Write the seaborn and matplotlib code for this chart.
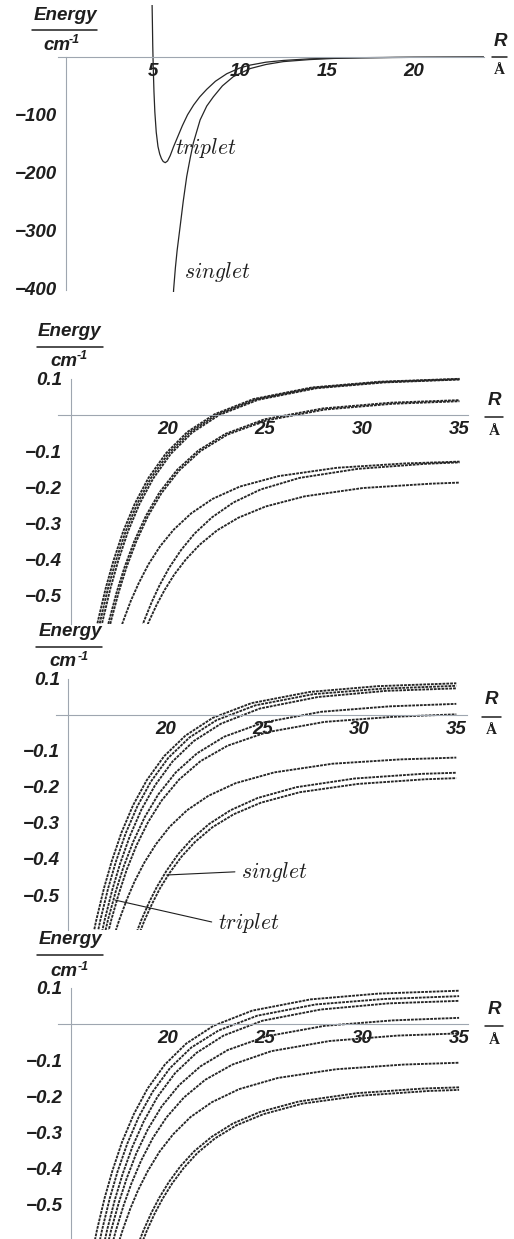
import matplotlib
matplotlib.use("Agg")
import matplotlib.pyplot as plt
from matplotlib.lines import Line2D
from matplotlib.ticker import FixedLocator
import numpy as np
import pandas as pd
import seaborn as sns

# ---------------- data ----------------
# Top panel: zero-field potential curves (energy in cm^-1, R in angstrom)
triplet_r = [4.96, 4.98, 5.0, 5.03, 5.07, 5.12, 5.2, 5.3, 5.4, 5.5, 5.6, 5.72, 5.85, 6.0,
             6.2, 6.45, 6.7, 7.0, 7.35, 7.7, 8.1, 8.6, 9.25, 10.0, 10.6, 11.5, 12.5, 14.0,
             16.0, 19.0, 24.0]
triplet_e = [95, 60, 20, -20, -60, -95, -130, -155, -168, -176, -181, -183, -180, -171,
             -155, -137, -119, -100, -83, -69, -56, -42, -29, -19, -14, -9, -6, -3.2,
             -1.5, -0.6, -0.2]
singlet_r = [6.15, 6.2, 6.3, 6.4, 6.57, 6.75, 6.95, 7.15, 7.33, 7.72, 8.1, 8.48, 9.0, 9.63,
             10.6, 11.5, 12.5, 14.0, 15.4, 17.0, 20.0, 24.0]
singlet_e = [-430, -402, -365, -335, -294, -250, -207, -175, -149, -109, -85, -69, -50, -34,
             -20, -13, -8, -4.5, -2.5, -1.5, -0.6, -0.2]

# Second panel: long-range levels
levels_b_r = [
    [16.1, 16.4, 16.8, 17.2, 17.7, 18.3, 19.0, 19.9, 21.0, 22.4, 24.4, 27.4, 30.9, 35],
    [16.22, 16.52, 16.92, 17.32, 17.82, 18.42, 19.12, 20.02, 21.12, 22.52, 24.52, 27.52, 31.02, 35],
    [16.34, 16.64, 17.04, 17.44, 17.94, 18.54, 19.24, 20.14, 21.24, 22.64, 24.64, 27.64, 31.14, 35],
    [16.67, 16.97, 17.37, 17.77, 18.27, 18.87, 19.57, 20.47, 21.57, 22.97, 24.97, 27.97, 31.47, 35],
    [16.77, 17.07, 17.47, 17.87, 18.37, 18.97, 19.67, 20.57, 21.67, 23.07, 25.07, 28.07, 31.57, 35],
    [17.4, 17.7, 18.1, 18.5, 19.0, 19.6, 20.3, 21.2, 22.3, 23.7, 25.7, 28.7, 32.2, 35],
    [18.47, 18.77, 19.17, 19.57, 20.07, 20.67, 21.37, 22.27, 23.37, 24.77, 26.77, 29.77, 33.27, 35],
    [18.73, 19.03, 19.43, 19.83, 20.33, 20.93, 21.63, 22.53, 23.63, 25.03, 27.03, 30.03, 33.53, 35],
]
levels_b_e = [
    [-0.649, -0.570, -0.479, -0.403, -0.322, -0.245, -0.174, -0.106, -0.047, 0.002, 0.044, 0.076, 0.092, 0.100],
    [-0.649, -0.570, -0.479, -0.404, -0.323, -0.246, -0.175, -0.107, -0.048, 0.001, 0.043, 0.075, 0.091, 0.099],
    [-0.648, -0.570, -0.480, -0.404, -0.323, -0.246, -0.176, -0.108, -0.049, 0.000, 0.042, 0.074, 0.090, 0.098],
    [-0.640, -0.570, -0.489, -0.421, -0.349, -0.279, -0.214, -0.152, -0.098, -0.052, -0.012, 0.018, 0.034, 0.041],
    [-0.640, -0.570, -0.490, -0.421, -0.350, -0.280, -0.216, -0.154, -0.100, -0.054, -0.015, 0.015, 0.031, 0.038],
    [-0.619, -0.570, -0.513, -0.465, -0.413, -0.363, -0.317, -0.272, -0.232, -0.198, -0.169, -0.146, -0.134, -0.129],
    [-0.615, -0.570, -0.517, -0.471, -0.422, -0.374, -0.328, -0.283, -0.242, -0.206, -0.174, -0.149, -0.135, -0.131],
    [-0.609, -0.570, -0.524, -0.484, -0.441, -0.399, -0.359, -0.319, -0.284, -0.253, -0.225, -0.202, -0.190, -0.187],
]

# Third panel
levels_c_r = [
    [16.14, 16.44, 16.84, 17.24, 17.74, 18.34, 19.04, 19.94, 21.04, 22.44, 24.44, 27.44, 30.94, 35],
    [16.35, 16.65, 17.05, 17.45, 17.95, 18.55, 19.25, 20.15, 21.25, 22.65, 24.65, 27.65, 31.15, 35],
    [16.57, 16.87, 17.27, 17.67, 18.17, 18.77, 19.47, 20.37, 21.47, 22.87, 24.87, 27.87, 31.37, 35],
    [16.74, 17.04, 17.44, 17.84, 18.34, 18.94, 19.64, 20.54, 21.64, 23.04, 25.04, 28.04, 31.54, 35],
    [16.91, 17.21, 17.61, 18.01, 18.51, 19.11, 19.81, 20.71, 21.81, 23.21, 25.21, 28.21, 31.71, 35],
    [17.32, 17.62, 18.02, 18.42, 18.92, 19.52, 20.22, 21.12, 22.22, 23.62, 25.62, 28.62, 32.12, 35],
    [18.46, 18.76, 19.16, 19.56, 20.06, 20.66, 21.36, 22.26, 23.36, 24.76, 26.76, 29.76, 33.26, 35],
    [18.63, 18.93, 19.33, 19.73, 20.23, 20.83, 21.53, 22.43, 23.53, 24.93, 26.93, 29.93, 33.43, 35],
]
levels_c_e = [
    [-0.647, -0.570, -0.481, -0.406, -0.327, -0.251, -0.182, -0.115, -0.058, -0.009, 0.032, 0.063, 0.079, 0.087],
    [-0.647, -0.570, -0.482, -0.408, -0.330, -0.255, -0.186, -0.120, -0.063, -0.015, 0.026, 0.057, 0.072, 0.080],
    [-0.644, -0.570, -0.485, -0.413, -0.337, -0.263, -0.196, -0.130, -0.073, -0.025, 0.017, 0.049, 0.066, 0.073],
    [-0.639, -0.570, -0.491, -0.423, -0.353, -0.284, -0.221, -0.160, -0.107, -0.061, -0.022, 0.008, 0.023, 0.030],
    [-0.635, -0.570, -0.495, -0.430, -0.363, -0.298, -0.238, -0.180, -0.129, -0.086, -0.049, -0.020, -0.006, 0.001],
    [-0.620, -0.570, -0.512, -0.462, -0.410, -0.359, -0.311, -0.265, -0.225, -0.190, -0.160, -0.136, -0.124, -0.119],
    [-0.612, -0.570, -0.521, -0.478, -0.433, -0.387, -0.345, -0.303, -0.265, -0.231, -0.201, -0.177, -0.164, -0.161],
    [-0.611, -0.570, -0.523, -0.481, -0.438, -0.394, -0.353, -0.312, -0.276, -0.244, -0.215, -0.192, -0.179, -0.176],
]

# Bottom panel
levels_d_r = [
    [16.05, 16.35, 16.75, 17.15, 17.65, 18.25, 18.95, 19.85, 20.95, 22.35, 24.35, 27.35, 30.85, 35],
    [16.31, 16.61, 17.01, 17.41, 17.91, 18.51, 19.21, 20.11, 21.21, 22.61, 24.61, 27.61, 31.11, 35],
    [16.57, 16.87, 17.27, 17.67, 18.17, 18.77, 19.47, 20.37, 21.47, 22.87, 24.87, 27.87, 31.37, 35],
    [16.78, 17.08, 17.48, 17.88, 18.38, 18.98, 19.68, 20.58, 21.68, 23.08, 25.08, 28.08, 31.58, 35],
    [17.03, 17.33, 17.73, 18.13, 18.63, 19.23, 19.93, 20.83, 21.93, 23.33, 25.33, 28.33, 31.83, 35],
    [17.37, 17.67, 18.07, 18.47, 18.97, 19.57, 20.27, 21.17, 22.27, 23.67, 25.67, 28.67, 32.17, 35],
    [18.45, 18.75, 19.15, 19.55, 20.05, 20.65, 21.35, 22.25, 23.35, 24.75, 26.75, 29.75, 33.25, 35],
    [18.63, 18.93, 19.33, 19.73, 20.23, 20.83, 21.53, 22.43, 23.53, 24.93, 26.93, 29.93, 33.43, 35],
]
levels_d_e = [
    [-0.648, -0.570, -0.480, -0.405, -0.325, -0.249, -0.179, -0.112, -0.054, -0.005, 0.037, 0.068, 0.084, 0.092],
    [-0.646, -0.570, -0.482, -0.408, -0.331, -0.256, -0.188, -0.122, -0.065, -0.018, 0.023, 0.054, 0.069, 0.077],
    [-0.643, -0.570, -0.486, -0.415, -0.340, -0.268, -0.201, -0.136, -0.080, -0.032, 0.009, 0.040, 0.057, 0.064],
    [-0.637, -0.570, -0.493, -0.427, -0.357, -0.290, -0.228, -0.169, -0.117, -0.072, -0.034, -0.005, 0.010, 0.017],
    [-0.630, -0.570, -0.500, -0.440, -0.377, -0.315, -0.258, -0.203, -0.154, -0.112, -0.075, -0.047, -0.032, -0.026],
    [-0.621, -0.570, -0.510, -0.459, -0.406, -0.353, -0.305, -0.257, -0.216, -0.180, -0.149, -0.125, -0.112, -0.107],
    [-0.611, -0.570, -0.522, -0.481, -0.437, -0.393, -0.352, -0.312, -0.275, -0.243, -0.214, -0.191, -0.178, -0.175],
    [-0.610, -0.570, -0.523, -0.483, -0.440, -0.397, -0.356, -0.316, -0.280, -0.249, -0.220, -0.198, -0.185, -0.182],
]

# tick values / labels
top_xticks = [5, 10, 15, 20]
top_yticks = [-100, -200, -300, -400]
top_ylabels = ["\u2212100", "\u2212200", "\u2212300", "\u2212400"]
long_xticks = [20, 25, 30, 35]
long_yticks = [0.1, -0.1, -0.2, -0.3, -0.4, -0.5]
long_ylabels = ["0.1", "\u22120.1", "\u22120.2", "\u22120.3", "\u22120.4", "\u22120.5"]

# ---------------- style ----------------
sns.set_style("white")
plt.rcParams["font.family"] = ["Liberation Sans", "DejaVu Sans"]
plt.rcParams["font.weight"] = "bold"
plt.rcParams["font.style"] = "italic"
plt.rcParams["mathtext.fontset"] = "cm"

AXIS = "#9ea6b0"
INK = "#1e1e1e"
CURVE = "#262626"
TICK_SIZE = 13.5
NOTE_SIZE = 15.5
W, H = 514, 1239

fig = plt.figure(figsize=(W / 100, H / 100), dpi=100)
fig.patch.set_facecolor("white")


def fx(x):
    return x / W


def fy(y):
    return 1 - y / H


def axes_px(left, top, right, bottom):
    return fig.add_axes([fx(left), fy(bottom), (right - left) / W, (bottom - top) / H])


def frame_of(r_lists, e_lists):
    return pd.DataFrame({
        "R": np.concatenate([np.asarray(r, float) for r in r_lists]),
        "E": np.concatenate([np.asarray(e, float) for e in e_lists]),
        "level": np.concatenate([[i] * len(r) for i, r in enumerate(r_lists)]),
    })


def style_axes(ax, xlim, ylim, x0, ybounds, xmaj, xmin, ymaj, ylabels, ymin):
    ax.set_xlim(*xlim)
    ax.set_ylim(*ylim)
    ax.set_facecolor("none")
    ax.grid(False)
    for s in ("top", "right"):
        ax.spines[s].set_visible(False)
    ax.spines["left"].set_position(("data", x0))
    ax.spines["bottom"].set_position(("data", 0))
    ax.spines["left"].set_bounds(*ybounds)
    for s in ("left", "bottom"):
        ax.spines[s].set_color(AXIS)
        ax.spines[s].set_linewidth(0.8)
    ax.set_xticks(xmaj)
    ax.set_xticklabels([str(v) for v in xmaj])
    ax.xaxis.set_minor_locator(FixedLocator(xmin))
    ax.set_yticks(ymaj)
    ax.set_yticklabels(ylabels)
    ax.yaxis.set_minor_locator(FixedLocator(ymin))
    ax.tick_params(which="both", direction="in", color=AXIS, width=0.7)
    ax.tick_params(which="major", length=4)
    ax.tick_params(which="minor", length=2)
    ax.tick_params(axis="x", pad=4.5, labelsize=TICK_SIZE, labelcolor=INK)
    ax.tick_params(axis="y", pad=6, labelsize=TICK_SIZE, labelcolor=INK)
    ax.set_xlabel("")
    ax.set_ylabel("")


def unit_labels(e_c, bar_y, bar_x, cm_c, sup_xy, r_c, r_bar_y, r_bar_x, a_c):
    fig.text(fx(e_c[0]), fy(e_c[1]), "Energy", ha="center", va="center", fontsize=13.5, color=INK)
    fig.add_artist(Line2D([fx(bar_x[0]), fx(bar_x[1])], [fy(bar_y), fy(bar_y)],
                          transform=fig.transFigure, color=INK, lw=1.1))
    fig.text(fx(cm_c[0]), fy(cm_c[1]), "cm", ha="center", va="center", fontsize=13.5, color=INK)
    fig.text(fx(sup_xy[0]), fy(sup_xy[1]), "-1", ha="left", va="center", fontsize=9, color=INK)
    fig.text(fx(r_c[0]), fy(r_c[1]), "R", ha="center", va="center", fontsize=13.5, color=INK)
    fig.add_artist(Line2D([fx(r_bar_x[0]), fx(r_bar_x[1])], [fy(r_bar_y), fy(r_bar_y)],
                          transform=fig.transFigure, color=INK, lw=1.1))
    fig.text(fx(a_c[0]), fy(a_c[1]), "\u00c5", ha="center", va="center", fontsize=11,
             family="Liberation Serif", style="normal", weight="bold", color=INK)


# ---------------- top panel ----------------
ax1 = axes_px(58, 5, 484, 292)
pots = frame_of([triplet_r, singlet_r], [triplet_e, singlet_e])
sns.lineplot(data=pots, x="R", y="E", units="level", estimator=None, color=CURVE,
             lw=0.9, ax=ax1, legend=False)
style_axes(ax1, (-0.44, 24.02), (-406.9, 90.0), 0, (-403, 0),
           top_xticks, list(range(1, 25)), top_yticks, top_ylabels,
           list(range(-400, 0, 20)))
ax1.text(6.3, -158, r"$triplet$", fontsize=NOTE_SIZE, ha="left", va="center", color=INK)
ax1.text(6.8, -372.8, r"$singlet$", fontsize=NOTE_SIZE, ha="left", va="center", color=INK)
unit_labels((65.8, 15), 30, (31.7, 97.3), (57, 46), (69, 40),
            (500, 42), 56.7, (491.7, 507.3), (499, 70.7))

# ---------------- long-range panels ----------------
long_minor_x = list(range(15, 36))


def long_panel(box, xlim, ylim, r_lists, e_lists):
    ax = axes_px(*box)
    data = frame_of(r_lists, e_lists)
    sns.lineplot(data=data, x="R", y="E", units="level", estimator=None, color=CURVE,
                 lw=1.35, linestyle=(0, (1.5, 0.55)), ax=ax, legend=False)
    ymin = [round(v, 2) for v in np.arange(-0.56, 0.1, 0.02)]
    style_axes(ax, xlim, ylim, 15, (ylim[0], 0.1), long_xticks, long_minor_x,
               long_yticks, long_ylabels, ymin)
    return ax


ax2 = long_panel((58.3, 377.0, 468.3, 624), (14.362, 35.453), (-0.578, 0.105),
                 levels_b_r, levels_b_e)
unit_labels((69.3, 331.7), 346.7, (37.3, 102.7), (63.7, 361.7), (76.7, 356),
            (494.3, 400.7), 416.7, (485, 503.3), (494.3, 431))

ax3 = long_panel((56, 676.8, 466.7, 930), (14.366, 35.536), (-0.597, 0.105),
                 levels_c_r, levels_c_e)
unit_labels((70, 631.7), 646.7, (36, 101.7), (62.5, 661.7), (77.3, 656.7),
            (491.7, 700), 716.7, (482.3, 500.7), (491.7, 731))
lead = dict(arrowstyle="-", color=INK, lw=0.8, shrinkA=2, shrinkB=0, relpos=(0, 0.5))
ax3.annotate(r"$singlet$", xy=(20.07, -0.4445), xytext=(23.9, -0.435), fontsize=NOTE_SIZE,
             ha="left", va="center", color=INK, arrowprops=lead, annotation_clip=False)
ax3.annotate(r"$triplet$", xy=(17.41, -0.514), xytext=(22.7, -0.5785), fontsize=NOTE_SIZE,
             ha="left", va="center", color=INK, arrowprops=lead, annotation_clip=False)

ax4 = long_panel((58.3, 986, 468.3, 1239), (14.361, 35.474), (-0.594, 0.105),
                 levels_d_r, levels_d_e)
unit_labels((70, 939), 955, (37.3, 102.7), (63.7, 971.3), (77.3, 967),
            (494.3, 1010), 1026, (485, 503.3), (494.3, 1040))

fig.savefig("out.png", dpi=100, facecolor="white")
